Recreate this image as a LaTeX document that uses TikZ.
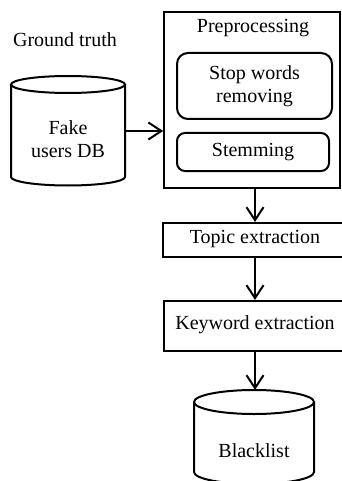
\documentclass[tikz,border=0pt]{standalone}
\usepackage{fontspec}
\setmainfont{Liberation Serif}
\usetikzlibrary{arrows.meta}
\begin{document}
\begin{tikzpicture}[x=1pt,y=-1pt,
  lbl/.style={font=\fontsize{20}{23}\selectfont, align=center, inner sep=0pt},
  box/.style={draw, line width=2pt, inner sep=0pt, font=\fontsize{20}{23}\selectfont, align=center},
  rbox/.style={box, rounded corners=11pt},
  area/.style={inner sep=0pt, outer sep=0pt},
  cyl/.style={line width=2pt},
  arr/.style={line width=2pt, -{Straight Barb[length=13pt,width=17pt,line width=2pt]}}]
\useasboundingbox (0,0) rectangle (342,481);
\clip (0,0) rectangle (342,481);

% Ground truth label
\node[lbl, anchor=base] (gt) at (65,47) {Ground truth};

% Fake users DB cylinder
\node[area, minimum width=114pt, minimum height=109pt] (db) at (68,131) {};
\draw[cyl] (db.west |- 0,84.5) -- (db.west |- 0,177)
  arc[start angle=180, end angle=360, x radius=57pt, y radius=8.5pt]
  -- (db.east |- 0,84.5);
\draw[cyl] (68,84.5) ellipse[x radius=57pt, y radius=8.5pt];
\node[lbl] (dbt) at (68,139.5) {Fake\\users DB};

% Preprocessing box
\node[box, line width=1.6pt, minimum width=176pt, minimum height=176pt] (pre) at (252,100) {};
\node[lbl, anchor=base] (pret) at (253,33) {Preprocessing};
\node[rbox, minimum width=155pt, minimum height=66pt] (stop) at (254.5,86) {Stop words\\removing};
\node[rbox, rounded corners=8pt, minimum width=152pt, minimum height=38pt] (stem) at (253,152) {Stemming};

% Topic and keyword extraction (boxes run past the right edge)
\node[box, minimum width=200pt, minimum height=34pt] (topic) at (263,240) {};
\node[lbl] (topict) at (255,239) {Topic extraction};
\node[box, minimum width=198pt, minimum height=50pt] (kw) at (263,326) {};
\node[lbl] (kwt) at (255,325) {Keyword extraction};

% Blacklist cylinder
\node[area, minimum width=120pt, minimum height=92pt] (bl) at (254,436) {};
\draw[cyl] (bl.west |- 0,402) -- (bl.west |- 0,472)
  arc[start angle=180, end angle=360, x radius=60pt, y radius=12pt]
  -- (bl.east |- 0,402);
\draw[cyl] (254,402) ellipse[x radius=60pt, y radius=12pt];
\node[lbl] (blt) at (254,451) {Blacklist};

% connectors
\draw[arr] (db.east) -- (db.east -| pre.west);
\draw[arr] (pre.south -| topict) -- (topict |- topic.north);
\draw[arr] (topict |- topic.south) -- (kwt |- kw.north);
\draw[arr] (kwt |- kw.south) -- (kwt |- bl.north);
\end{tikzpicture}
\end{document}
